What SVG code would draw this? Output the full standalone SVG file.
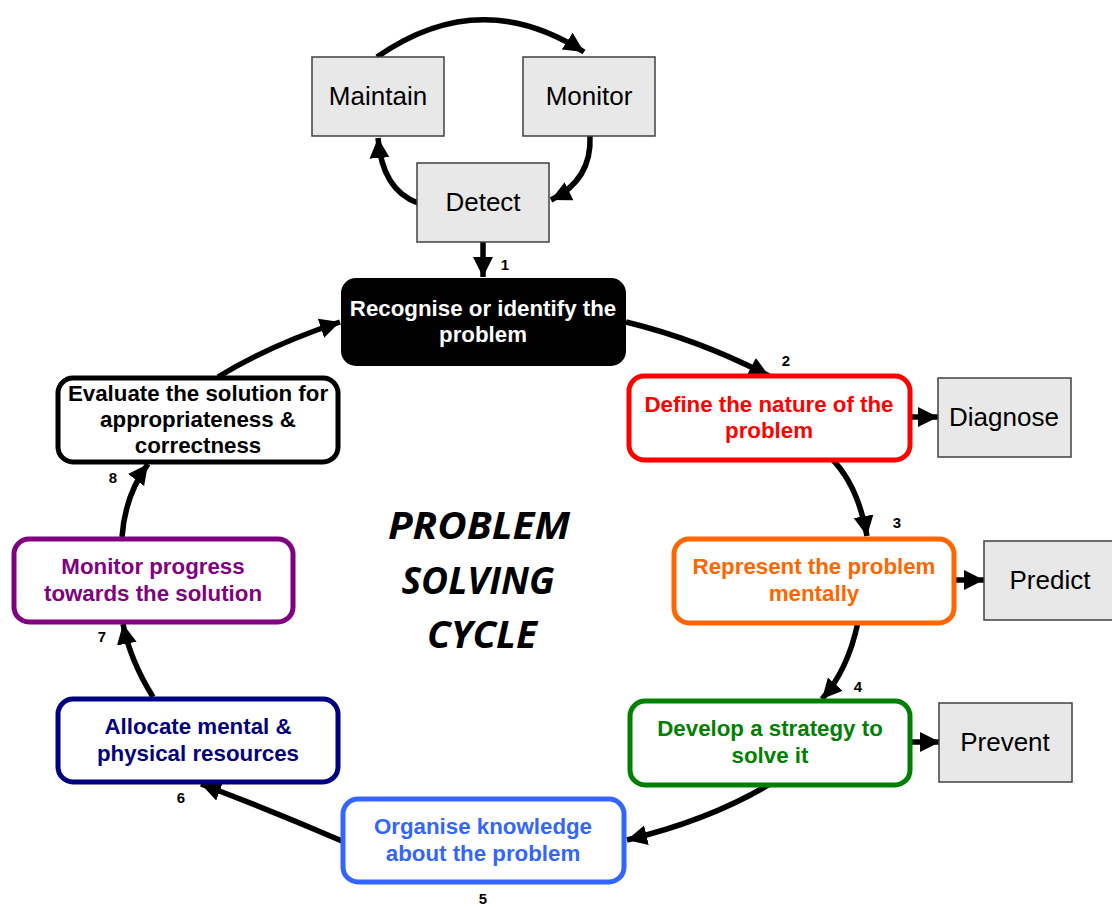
<svg xmlns="http://www.w3.org/2000/svg" width="1112" height="907" viewBox="0 0 1112 907">
<defs>
<marker id="ah" markerUnits="userSpaceOnUse" markerWidth="22" markerHeight="22" refX="20" refY="10" orient="auto" viewBox="0 0 22 20">
<path d="M0,0 L20,10 L0,20 z" fill="#000"/>
</marker>
</defs>
<style>
.gbox{fill:#e8e8e8;stroke:#404040;stroke-width:1.5}
.gtxt{font-family:"Liberation Sans",Arial,sans-serif;font-size:26px;fill:#000;text-anchor:middle}
.step{fill:#fff;stroke-width:5}
.stxt{font-family:"Liberation Sans",Arial,sans-serif;font-size:22.3px;font-weight:bold;text-anchor:middle}
.num{font-family:"Liberation Sans",Arial,sans-serif;font-size:15px;font-weight:bold;fill:#000;text-anchor:middle}
.conn path{fill:none;stroke:#000;stroke-width:5.5;marker-end:url(#ah)}
.title{font-family:"Open Sans",sans-serif;font-size:38px;font-weight:bold;font-style:italic;fill:#000;text-anchor:middle}
</style>
<rect width="1112" height="907" fill="#fff"/>

<g id="connectors" class="conn">
<path d="M377,57 Q480,-15 584,52"/>
<path d="M590,136 Q592,180 551,200"/>
<path d="M418,203 Q382,190 378,138"/>
<path d="M483,240 L483,277"/>
<path d="M626,322 Q700,340 769,376"/>
<path d="M831,458 Q858,485 867,536"/>
<path d="M858,622 Q848,670 822,699"/>
<path d="M770,784 Q710,820 627,840"/>
<path d="M342,841 Q270,810 201,784"/>
<path d="M153,697 Q130,660 123,624"/>
<path d="M122,537 Q125,495 148,464"/>
<path d="M218,377 Q270,345 340,322"/>
<path d="M908,417 L938,417"/>
<path d="M953,580 L984,580"/>
<path d="M908,742 L940,742"/>
</g>

<g id="maintain"><rect class="gbox" x="312" y="57" width="132" height="79"/><text class="gtxt" x="378" y="105">Maintain</text></g>
<g id="monitor"><rect class="gbox" x="523" y="57" width="132" height="79"/><text class="gtxt" x="589" y="105">Monitor</text></g>
<g id="detect"><rect class="gbox" x="417" y="163" width="132" height="79"/><text class="gtxt" x="483" y="211">Detect</text></g>
<g id="diagnose"><rect class="gbox" x="938" y="378" width="133" height="79"/><text class="gtxt" x="1004" y="426">Diagnose</text></g>
<g id="predict"><rect class="gbox" x="984" y="541" width="130" height="79"/><text class="gtxt" x="1050" y="589">Predict</text></g>
<g id="prevent"><rect class="gbox" x="939" y="703" width="133" height="79"/><text class="gtxt" x="1005" y="751">Prevent</text></g>

<g id="recognise"><rect x="341" y="278" width="285" height="88" rx="15" fill="#000"/>
<text class="stxt" fill="#fff"><tspan x="483" y="316">Recognise or identify the</tspan><tspan x="483" y="342">problem</tspan></text></g>
<g id="define"><rect class="step" stroke="#ff0000" x="629" y="376" width="281" height="84" rx="15"/>
<text class="stxt" fill="#ff0000"><tspan x="769" y="412">Define the nature of the</tspan><tspan x="769" y="438">problem</tspan></text></g>
<g id="represent"><rect class="step" stroke="#ff6600" x="674" y="539" width="280" height="84" rx="15"/>
<text class="stxt" fill="#ff6600"><tspan x="814" y="574">Represent the problem</tspan><tspan x="814" y="601">mentally</tspan></text></g>
<g id="develop"><rect class="step" stroke="#008000" x="630" y="701" width="280" height="84" rx="15"/>
<text class="stxt" fill="#008000"><tspan x="770" y="736">Develop a strategy to</tspan><tspan x="770" y="763">solve it</tspan></text></g>
<g id="organise"><rect class="step" stroke="#3366ff" x="343" y="799" width="281" height="83" rx="15"/>
<text class="stxt" fill="#3366ff"><tspan x="483" y="834">Organise knowledge</tspan><tspan x="483" y="861">about the problem</tspan></text></g>
<g id="allocate"><rect class="step" stroke="#000080" x="58" y="699" width="280" height="83" rx="15"/>
<text class="stxt" fill="#000080"><tspan x="198" y="734">Allocate mental &amp;</tspan><tspan x="198" y="761">physical resources</tspan></text></g>
<g id="monitor-progress"><rect class="step" stroke="#800080" x="14" y="539" width="279" height="83" rx="15"/>
<text class="stxt" fill="#800080"><tspan x="153" y="574">Monitor progress</tspan><tspan x="153" y="601">towards the solution</tspan></text></g>
<g id="evaluate"><rect class="step" stroke="#000" x="58" y="378" width="280" height="84" rx="15"/>
<text class="stxt" fill="#000"><tspan x="198" y="401">Evaluate the solution for</tspan><tspan x="198" y="427">appropriateness &amp;</tspan><tspan x="198" y="453">correctness</tspan></text></g>

<g id="numbers">
<text class="num" x="505" y="270">1</text>
<text class="num" x="786" y="366">2</text>
<text class="num" x="897" y="528">3</text>
<text class="num" x="858" y="692">4</text>
<text class="num" x="483" y="904">5</text>
<text class="num" x="181" y="803">6</text>
<text class="num" x="102" y="642">7</text>
<text class="num" x="113" y="483">8</text>
</g>

<g id="title">
<text class="title" x="479" y="539" textLength="182" lengthAdjust="spacingAndGlyphs">PROBLEM</text>
<text class="title" x="478" y="594" textLength="153" lengthAdjust="spacingAndGlyphs">SOLVING</text>
<text class="title" x="482" y="648" textLength="110" lengthAdjust="spacingAndGlyphs">CYCLE</text>
</g>
</svg>
